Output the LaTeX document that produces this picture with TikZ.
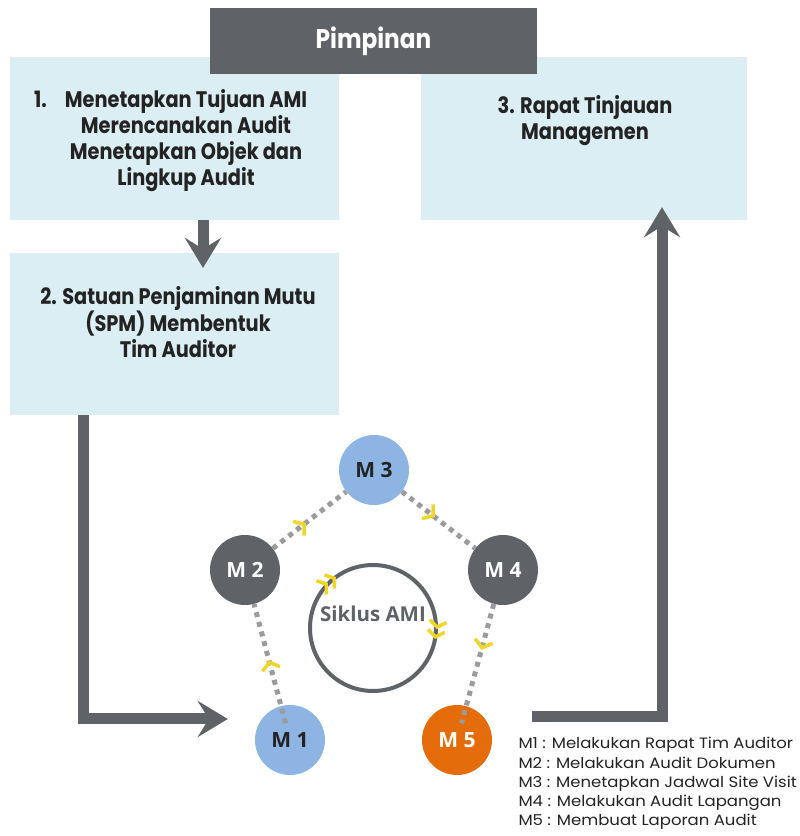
\documentclass[tikz,border=0pt]{standalone}
\usepackage{fontspec}
\setmainfont{Poppins}[FakeStretch=1.1]
\newfontfamily\kotakfont{Poppins}[FakeStretch=0.86]
\newfontfamily\bulatfont{Open Sans}
\usetikzlibrary{arrows.meta,decorations.markings,calc}
\definecolor{abu}{RGB}{95,99,104}
\definecolor{abutitik}{RGB}{155,155,155}
\definecolor{birumuda}{RGB}{219,238,244}
\definecolor{biru}{RGB}{141,180,226}
\definecolor{oranye}{RGB}{228,108,10}
\definecolor{kuning}{RGB}{240,214,40}
\definecolor{hitam}{RGB}{35,35,35}

\begin{document}
\begin{tikzpicture}[x=1pt,y=1pt,
  kotak/.style={fill=birumuda,minimum width=329pt,minimum height=163pt,inner sep=0pt},
  isi/.style={font=\kotakfont\bfseries\fontsize{22.5}{26}\selectfont,text=hitam,align=center},
  panah/.style={draw=abu,line width=11pt,-{Stealth[length=30pt,width=36pt,inset=11pt]}},
  bulat/.style={circle,minimum size=70pt,inner sep=0pt,font=\bulatfont\bfseries\fontsize{21}{21}\selectfont},
  titik/.style={draw=abutitik,line width=5pt,dash pattern=on 5pt off 5pt,postaction=decorate,
    decoration={markings,mark=at position 0.45 with {\arrow[kuning,line width=3.5pt]{Straight Barb[length=7pt,width=18pt]}}}},
  ganda/.style={decorate,decoration={markings,mark=at position 0.5 with
    {\arrow[kuning,line width=3.5pt]{Straight Barb[length=6pt,width=17pt]Straight Barb[length=6pt,width=17pt]}}}}]
\useasboundingbox (0,0) rectangle (800,836);

%kotak
\node[kotak] (box1) at (174.5,697.5) {};
\node[kotak,minimum width=326pt] (box3) at (584,697.5) {};
\node[kotak,minimum height=162pt] (box2) at (174.5,502) {};
\node[fill=abu,minimum width=327pt,minimum height=66pt,inner sep=0pt,
  text=white,font=\kotakfont\bfseries\fontsize{27}{27}\selectfont] (pimpinan) at (373.5,795) {Pimpinan};

\node[isi] (teks1) at (186,695) {\llap{1.\hspace{0.8em}}Menetapkan Tujuan AMI\\Merencanakan Audit\\Menetapkan Objek dan\\Lingkup Audit};
\node[isi] (teks3) at (585,715) {3. Rapat Tinjauan\\Managemen};
\node[isi] (teks2) at (178,514) {2. Satuan Penjaminan Mutu\\(SPM) Membentuk\\Tim Auditor};

%lingkaran M
\node[bulat,fill=biru,text=hitam] (m1) at (290,96) {M 1};
\node[bulat,fill=abu,text=white] (m2) at (245,266) {M 2};
\node[bulat,fill=biru,text=hitam] (m3) at (374,366) {M 3};
\node[bulat,fill=abu,text=white] (m4) at (503,266) {M 4};
\node[bulat,fill=oranye,text=white] (m5) at (457,96) {M 5};

%siklus
\node[circle,draw=abu,line width=4pt,minimum size=126pt] (siklus) at (373,208) {};
\node[text=abu,font=\bulatfont\bfseries\fontsize{20.5}{20.5}\selectfont] (teks siklus) at (373,222) {Siklus AMI};
\path[ganda] ($(siklus.center)+(146:63)$) arc[start angle=146,end angle=106,radius=63];
\path[ganda] ($(siklus.center)+(10:63)$) arc[start angle=10,end angle=-30,radius=63];

%garis titik
\draw[titik,shorten <=-18pt] (m1) -- (m2);
\draw[titik] (m2) -- (m3);
\draw[titik] (m3) -- (m4);
\draw[titik,shorten >=-18pt] (m4) -- (m5);

%panah
\coordinate (ujung1) at (203,568);
\draw[panah] (ujung1 |- box1.south) -- (ujung1);
\coordinate (belok1) at (83,117);
\draw[panah] (belok1 |- box2.south) -- (belok1) -- ([xshift=-27pt]m1.west |- belok1);
\coordinate (belok2) at (662,119);
\draw[panah] ([xshift=40pt]m5.east |- belok2) -- (belok2) -- ([yshift=13pt]belok2 |- box3.south);

%keterangan
\node[anchor=west,align=left,text=hitam,font=\fontsize{15}{19.2}\selectfont] (legenda) at (515,52.5)
  {M1 : Melakukan Rapat Tim Auditor\\M2 : Melakukan Audit Dokumen\\M3 : Menetapkan Jadwal Site Visit\\M4 : Melakukan Audit Lapangan\\M5 : Membuat Laporan Audit};
\end{tikzpicture}
\end{document}
